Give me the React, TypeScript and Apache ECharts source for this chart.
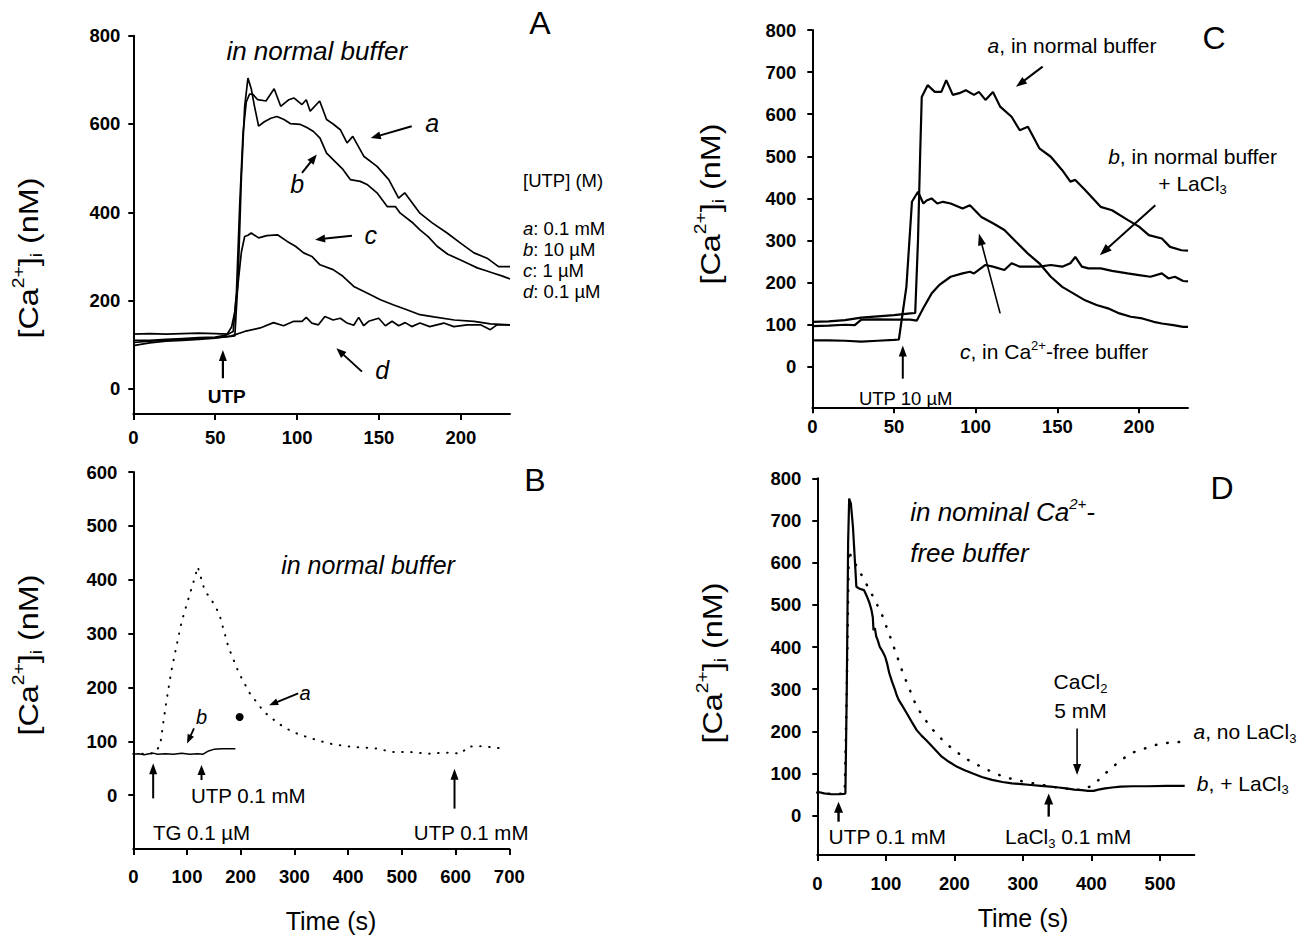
import React, { useEffect, useRef } from "react";
import * as echarts from "echarts";

const FF = "'Liberation Sans', Arial, Helvetica, sans-serif";
type P = [number, number];

// ---------- axis ranges & ticks ----------
const xRanges: P[] = [[0, 230], [0, 700], [0, 230], [0, 550]];
const yRanges: P[] = [[-57, 800], [-100, 600], [-96, 800], [-93, 800]];
const xTicks: number[][] = [
  [0, 50, 100, 150, 200],
  [0, 100, 200, 300, 400, 500, 600, 700],
  [0, 50, 100, 150, 200],
  [0, 100, 200, 300, 400, 500],
];
const yTicks: number[][] = [
  [0, 200, 400, 600, 800],
  [0, 100, 200, 300, 400, 500, 600],
  [0, 100, 200, 300, 400, 500, 600, 700, 800],
  [0, 100, 200, 300, 400, 500, 600, 700, 800],
];

// ---------- Panel A ----------
const A_a: P[] = [[0,124],[10,125],[20,124],[30,125],[40,126],[50,125],[58,124],[61,130],[63,220],[65,420],[67,580],[69,650],[71,668],[73,667],[76,655],[81,652],[86,680],[90,640],[95,655],[98,659],[103,644],[105.6,655],[108,629],[113.8,652],[118,610],[122,600],[126.4,587],[130.5,557],[134,572],[140.7,527],[148.8,504],[156,474],[162,432],[165.7,444],[175,398],[182.5,376],[191.6,353],[199.8,330],[208,308],[216,296],[223,277],[230,277]];
const A_b: P[] = [[0,105],[10,108],[20,110],[30,112],[40,114],[50,116],[58,118],[62,120],[64,250],[66,480],[68,640],[70,704],[72,680],[74,640],[76.5,595],[80,605],[84,613],[87.7,617],[92,610],[95.8,601],[102,599],[106,592],[110,583],[114,568],[118,534],[124,512],[128,497],[132.5,474],[138.6,470],[142.7,463],[148.8,444],[155,413],[160,413],[163,398],[170,378],[175,360],[180,345],[185.5,323],[192,305],[199.8,292],[205,283],[210,274],[215,268],[220,262],[225,256],[230,249]];
const A_c: P[] = [[0,110],[10,110],[20,112],[30,114],[40,116],[50,117],[57,122],[60,140],[62,175],[64,240],[66,310],[68,345],[70,348],[72,353],[76.5,342],[81.5,347],[88,349],[94,334],[99,323],[104,308],[109,300],[114,281],[122,270],[128,255],[134.6,232],[142.7,217],[150.9,202],[159,190],[167,179],[175,168],[183.5,163],[196,156],[208,153],[218,147],[230,145]];
const A_d: P[] = [[0,98],[10,104],[20,108],[30,110],[40,112],[50,115],[60,120],[68,130],[77.5,138],[85.6,150],[91.7,143],[98,153],[103,153],[105.6,162],[109,149],[113,145],[117,164],[122,156],[126.4,160],[130.5,149],[134.6,144],[137.6,162],[140.7,143],[143.7,153],[149.8,160],[153.9,143],[158,153],[162,143],[166,150],[170,141],[175,149],[181,141],[189.6,149],[195.7,141],[203.9,145],[212,145],[218,134],[222,145],[230,145]];

// ---------- Panel B ----------
const B_a: P[] = [[0,77],[20,77],[40,78],[50,93],[60,164],[70,226],[80,275],[90,322],[100,356],[113,399],[120,424],[133,380],[147,360],[160,337],[177,275],[197,226],[217,189],[243,155],[270,133],[297,117],[323,108],[363,96],[403,90],[450,87],[483,80],[517,80],[550,77],[583,79],[610,77],[623,90],[650,91],[683,87]];
const B_b: P[] = [[0,76],[10,77],[20,75],[30,77],[37,78],[45,76],[60,77],[75,76],[90,78],[105,76],[120,77],[130,76],[140,82],[150,85],[165,86],[180,86],[190,86]];

// ---------- Panel C ----------
const C_a: P[] = [[0,107],[10,108],[20,111],[30,117],[40,120],[50,123],[60,127],[63,128],[64.7,300],[66,500],[67,641],[70.6,669],[75,653],[79,653],[82,681],[86,646],[90,650],[94,657],[99,646],[102,653],[106,634],[110.6,653],[115,618],[122,594],[127,562],[132,570],[139,519],[146,499],[153,467],[158,440],[161,444],[167,420],[176.5,380],[183.5,372],[193,349],[200,333],[206,313],[214,305],[219,285],[226,277],[230,276]];
const C_b: P[] = [[0,97],[10,98],[20,100],[26,99],[30,112],[40,113],[50,112],[60,112],[64,110],[68,140],[73,174],[77.6,194],[84.7,214],[92,222],[96.5,226],[99,222],[106,242],[110.6,238],[117.6,230],[122,246],[127,238],[134,238],[139,238],[146,242],[153,238],[158,246],[161,261],[165,238],[169,234],[176.5,234],[183.5,228],[193,222],[200,218],[207,214],[214,222],[218,210],[222,214],[227,204],[230,203]];
const C_c: P[] = [[0,63],[10,63],[20,62],[30,60],[40,62],[50,64],[53,65],[57.6,190],[61,392],[64.7,416],[68,388],[70,395],[73,400],[76.5,388],[80,392],[84.7,388],[92,376],[96.5,384],[103.5,356],[110.6,341],[117.6,325],[124.7,297],[132,269],[139,246],[146,214],[153,190],[160,174],[167,158],[174,147],[181,139],[188,127],[195,119],[202,115],[209,107],[214,103],[221,99],[227,95],[230,95]];

// ---------- Panel D ----------
const D_a: P[] = [[0,55],[15,52],[30,52],[40,53],[43,300],[46,630],[52,600],[57,594],[68,560],[79,527],[93.6,480],[108,417],[125,338],[145,258],[164.5,211],[187,172],[215.6,136],[244,112],[272,92],[301,81],[329,73],[357,65],[386,61],[403,73],[420,100],[440,128],[457,148],[471,156],[494,168],[519,175],[536,175]];
const D_b: P[] = [[0,57],[10,53],[20,51],[30,51],[39,52],[41,53],[43,300],[45,650],[46.5,752],[49,740],[52,685],[55,600],[57,543],[62,538],[68,535],[72.6,519],[76,505],[79,488],[81,470],[82,440],[84,445],[86,425],[88,417],[91,401],[95,390],[99,377],[102,360],[105,338],[109,318],[113.5,298],[116,285],[119,274],[125,258],[130.5,243],[138,222],[145,203],[152,190],[159,179],[170,160],[181.6,140],[192,128],[204,116],[215,108],[227,100],[240,92],[255,85],[270,80],[284,77],[298,75],[312,73],[326,71],[340,69],[352,67],[363,65],[375,62],[386,61],[395,59],[403,59],[410,62],[420,65],[430,67],[442.5,69],[460,70],[482,70],[510,71],[536,71]];

const grids = [
  { left: 133.3, top: 35.7, width: 376.7, height: 378.3 },
  { left: 133.3, top: 472, width: 376, height: 377 },
  { left: 812.3, top: 30, width: 375.7, height: 377.3 },
  { left: 817.3, top: 478.3, width: 377, height: 376.7 },
];
const xLabelMargin = [14, 18, 10, 19];
const yLabelMargin = [13, 16, 16, 16];

function rt(size: number, italic = false, extra: any = {}) {
  return { fontSize: size, fontFamily: FF, fontStyle: italic ? "italic" : "normal", fill: "#000", ...extra };
}

function txt(x: number, y: number, text: string, size: number, o: any = {}) {
  const align = o.align || "center";
  const va = o.vAlign || "middle";
  const el: any = {
    type: "text",
    x,
    y,
    z: 100,
    style: {
      text,
      fill: "#000",
      fontSize: size,
      fontFamily: FF,
      fontStyle: o.italic ? "italic" : "normal",
      fontWeight: o.bold ? "bold" : "normal",
      textAlign: align,
      textVerticalAlign: va,
      align,
      verticalAlign: va,
    },
  };
  if (o.rich) el.style.rich = o.rich;
  if (o.rotation) el.rotation = o.rotation;
  if (o.scaleX) el.scaleX = o.scaleX;
  return el;
}

function arrowEls(p1: number[], p2: number[], hl = 10, hw = 4, lw = 2) {
  const dx = p2[0] - p1[0], dy = p2[1] - p1[1];
  const L = Math.hypot(dx, dy) || 1;
  const ux = dx / L, uy = dy / L;
  const bx = p2[0] - ux * hl, by = p2[1] - uy * hl;
  const nx = -uy, ny = ux;
  return [
    { type: "line", z: 100, shape: { x1: p1[0], y1: p1[1], x2: bx + ux * 2, y2: by + uy * 2 }, style: { stroke: "#000", lineWidth: lw } },
    { type: "polygon", z: 100, shape: { points: [[p2[0], p2[1]], [bx + nx * hw, by + ny * hw], [bx - nx * hw, by - ny * hw]] }, style: { fill: "#000" } },
  ];
}

function lineSeries(g: number, data: P[], width: number, dash?: any) {
  return {
    type: "line",
    xAxisIndex: g,
    yAxisIndex: g,
    data,
    symbol: "none",
    showSymbol: false,
    silent: true,
    lineStyle: { color: "#000", width, type: dash || "solid", cap: dash ? "round" : "butt" },
  };
}

export default function App() {
  const ref = useRef<HTMLDivElement>(null);
  useEffect(() => {
    if (!ref.current) return;
    const chart = echarts.init(ref.current, undefined, { renderer: "svg" });
    const axisLine = { show: true, onZero: false, lineStyle: { color: "#000", width: 2 } };
    const option: any = {
      animation: false,
      backgroundColor: "#fff",
      grid: grids.map((g) => ({ ...g, containLabel: false })),
      xAxis: grids.map((_, i) => ({
        type: "value",
        gridIndex: i,
        min: xRanges[i][0],
        max: xRanges[i][1],
        axisLine,
        axisTick: { show: true, inside: false, length: 6, lineStyle: { color: "#000", width: 2 }, customValues: xTicks[i] },
        axisLabel: { show: true, customValues: xTicks[i], color: "#000", fontFamily: FF, fontWeight: "bold", fontSize: 18.5, margin: xLabelMargin[i] },
        splitLine: { show: false },
      })),
      yAxis: grids.map((_, i) => ({
        type: "value",
        gridIndex: i,
        min: yRanges[i][0],
        max: yRanges[i][1],
        axisLine,
        axisTick: { show: true, inside: false, length: 5, lineStyle: { color: "#000", width: 2 }, customValues: yTicks[i] },
        axisLabel: { show: true, customValues: yTicks[i], color: "#000", fontFamily: FF, fontWeight: "bold", fontSize: 18.5, margin: yLabelMargin[i] },
        splitLine: { show: false },
      })),
      series: [
        lineSeries(0, A_a, 1.7),
        lineSeries(0, A_b, 1.7),
        lineSeries(0, A_c, 1.7),
        lineSeries(0, A_d, 1.7),
        lineSeries(1, B_a, 2, [0.5, 8.5]),
        lineSeries(1, B_b, 1.5),
        lineSeries(2, C_a, 2.2),
        lineSeries(2, C_b, 2.2),
        lineSeries(2, C_c, 2.2),
        lineSeries(3, D_a, 2.5, [0.5, 11]),
        lineSeries(3, D_b, 2.2),
      ],
    };
    chart.setOption(option);

    const px = (g: number, t: number, v: number) => chart.convertToPixel({ gridIndex: g } as any, [t, v]) as number[];
    const T = (g: number, t: number, v: number, text: string, size: number, o: any = {}) => {
      const p = px(g, t, v);
      return txt(p[0], p[1], text, size, o);
    };
    const AR = (g: number, a: P, b: P, hl = 10, hw = 4, lw = 2) => arrowEls(px(g, a[0], a[1]), px(g, b[0], b[1]), hl, hw, lw);

    const yTitleRich = {
      n: rt(27, false, { lineHeight: 34 }),
      s: rt(16, false, { lineHeight: 16, verticalAlign: "top" }),
      i: rt(16, false, { lineHeight: 16, verticalAlign: "bottom" }),
    };
    const yTitle = "{n|[Ca}{s|2+}{n|]}{i|i}{n| (nM)}";
    const r21 = {
      it: rt(21, true, { lineHeight: 26 }),
      n: rt(21, false, { lineHeight: 26 }),
      sup: rt(13, false, { lineHeight: 13, verticalAlign: "top" }),
      sub: rt(13, false, { lineHeight: 13, verticalAlign: "bottom" }),
    };
    const r18 = {
      it: rt(18.5, true, { lineHeight: 22 }),
      n: rt(18.5, false, { lineHeight: 22 }),
    };
    const r26i = {
      it: rt(26, true, { lineHeight: 32 }),
      sup: rt(15, true, { lineHeight: 15, verticalAlign: "top" }),
    };

    const g: any[] = [];
    // ---- Panel A ----
    g.push(txt(28, 258, yTitle, 27, { rich: yTitleRich, rotation: Math.PI / 2, scaleX: 1.2 }));
    g.push(txt(540, 23, "A", 32));
    g.push(T(0, 112, 765, "in normal buffer", 26, { italic: true }));
    g.push(T(0, 182.5, 602, "a", 25, { italic: true }));
    g.push(T(0, 100, 463, "b", 25, { italic: true }));
    g.push(T(0, 145, 349, "c", 25, { italic: true }));
    g.push(T(0, 152, 43, "d", 25, { italic: true }));
    g.push(T(0, 57, -17, "UTP", 19, { bold: true }));
    g.push(...AR(0, [170, 595], [145, 568]));
    g.push(...AR(0, [103, 489], [112, 531]));
    g.push(...AR(0, [133.5, 347], [111, 338]));
    g.push(...AR(0, [139.6, 39], [124, 92]));
    g.push(...AR(0, [54.7, 24], [54.7, 88], 11, 4, 2.2));
    g.push(txt(523, 180, "[UTP] (M)", 18.5, { align: "left" }));
    g.push(txt(523, 228, "{it|a}{n|: 0.1 mM}", 18.5, { align: "left", rich: r18 }));
    g.push(txt(523, 249, "{it|b}{n|: 10 µM}", 18.5, { align: "left", rich: r18 }));
    g.push(txt(523, 270, "{it|c}{n|: 1 µM}", 18.5, { align: "left", rich: r18 }));
    g.push(txt(523, 291, "{it|d}{n|: 0.1 µM}", 18.5, { align: "left", rich: r18 }));

    // ---- Panel B ----
    g.push(txt(28, 655, yTitle, 27, { rich: yTitleRich, rotation: Math.PI / 2, scaleX: 1.2 }));
    g.push(txt(535, 480, "B", 32));
    g.push(txt(331, 921, "Time (s)", 25));
    g.push(T(1, 437, 427, "in normal buffer", 25, { italic: true }));
    g.push(T(1, 320, 189, "a", 20, { italic: true }));
    g.push(T(1, 127, 145, "b", 20, { italic: true }));
    g.push(...AR(1, [307, 189], [253, 167], 9, 3.5, 1.8));
    g.push(...AR(1, [113, 124], [100, 96], 9, 3.5, 1.8));
    const blob = px(1, 198, 145);
    g.push({ type: "circle", z: 100, shape: { cx: blob[0], cy: blob[1], r: 4 }, style: { fill: "#000" } });
    g.push(...AR(1, [37, -6], [37, 59], 11, 4, 2));
    g.push(...AR(1, [127, 28], [127, 56], 10, 4, 2));
    g.push(...AR(1, [598, -25], [598, 49], 11, 4, 2));
    g.push(T(1, 214, 0, "UTP 0.1 mM", 20.5));
    g.push(T(1, 127, -70, "TG 0.1 µM", 20.5));
    g.push(T(1, 629, -70, "UTP 0.1 mM", 20.5));

    // ---- Panel C ----
    g.push(txt(710, 204, yTitle, 27, { rich: yTitleRich, rotation: Math.PI / 2, scaleX: 1.2 }));
    g.push(txt(1214, 38, "C", 32));
    g.push(T(2, 159, 764, "{it|a}{n|, in normal buffer}", 21, { rich: r21 }));
    g.push(T(2, 232.8, 499, "{it|b}{n|, in normal buffer}", 21, { rich: r21 }));
    g.push(T(2, 232.8, 436, "{n|+ LaCl}{sub|3}", 21, { rich: r21 }));
    g.push(T(2, 148, 36, "{it|c}{n|, in Ca}{sup|2+}{n|-free buffer}", 21, { rich: r21 }));
    g.push(T(2, 57.2, -75, "UTP 10 µM", 18.5));
    g.push(...AR(2, [141, 713], [124.7, 665], 11, 4, 2));
    g.push(...AR(2, [210, 384], [176, 265], 12, 4.5, 2));
    g.push(...AR(2, [115, 127], [102, 317], 12, 4, 1.6));
    g.push(...AR(2, [55.4, -28], [55.4, 51], 11, 4, 2));

    // ---- Panel D ----
    g.push(txt(712, 663, yTitle, 27, { rich: yTitleRich, rotation: Math.PI / 2, scaleX: 1.2 }));
    g.push(txt(1222, 488, "D", 32));
    g.push(txt(1023, 918, "Time (s)", 25));
    g.push(T(3, 135.5, 721, "{it|in nominal Ca}{sup|2+}{it|-}", 26, { align: "left", rich: r26i }));
    g.push(T(3, 135.5, 622, "free buffer", 26, { align: "left", italic: true }));
    g.push(T(3, 384, 318, "{n|CaCl}{sub|2}", 21, { rich: r21 }));
    g.push(T(3, 384, 250, "5 mM", 21));
    g.push(...AR(3, [379, 207], [379, 96.5], 11, 4, 1.6));
    g.push(T(3, 548.8, 199, "{it|a}{n|, no LaCl}{sub|3}", 21, { align: "left", rich: r21 }));
    g.push(T(3, 553.7, 77, "{it|b}{n|, + LaCl}{sub|3}", 21, { align: "left", rich: r21 }));
    g.push(T(3, 102, -50, "UTP 0.1 mM", 21));
    g.push(T(3, 366, -50, "{n|LaCl}{sub|3}{n| 0.1 mM}", 21, { rich: r21 }));
    g.push(...AR(3, [31, -14], [31, 33], 11, 4.5, 2.4));
    g.push(...AR(3, [337.6, -2], [337.6, 53], 11, 4.5, 2.4));

    chart.setOption({ graphic: { elements: g } });
    return () => chart.dispose();
  }, []);
  return (
    <div
      ref={ref}
      style={{ position: "fixed", left: 0, top: 0, width: 1311, height: 936, background: "#fff" }}
    />
  );
}
